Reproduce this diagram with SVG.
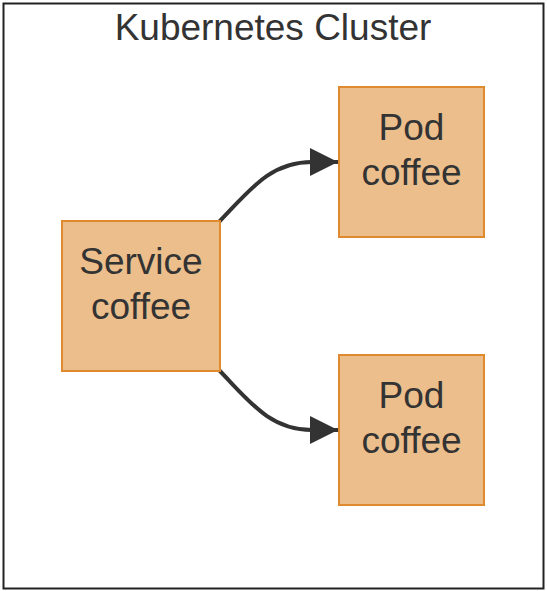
<svg xmlns="http://www.w3.org/2000/svg" width="547" height="591" viewBox="0 0 547 591">
<style>
.node rect{fill:#ECBE8C;stroke:#E08A30;stroke-width:2}
.lbl{font-family:"Liberation Sans",Arial,sans-serif;font-size:37px;fill:#333;text-anchor:middle}
.edge{fill:none;stroke:#333;stroke-width:4}
</style>
<defs>
<marker id="arr" markerUnits="userSpaceOnUse" markerWidth="28" markerHeight="28" refX="28" refY="14" orient="auto">
<path d="M0,0 L28,14 L0,28 Z" fill="#333"/>
</marker>
</defs>
<g id="cluster">
<rect x="3.5" y="3.5" width="540" height="585" fill="#fff" stroke="#222" stroke-width="2"/>
<text class="lbl" x="273" y="40">Kubernetes Cluster</text>
</g>
<g id="edges">
<path class="edge" d="M219,222 C250,190 270,162 312,162 L338,162" marker-end="url(#arr)"/>
<path class="edge" d="M219,370 C250,402 270,430 312,430 L338,430" marker-end="url(#arr)"/>
</g>
<g id="service" class="node">
<rect x="62" y="221" width="158" height="150"/>
<text class="lbl" x="141" y="274">Service</text>
<text class="lbl" x="141" y="319">coffee</text>
</g>
<g id="pod1" class="node">
<rect x="339" y="87" width="145" height="150"/>
<text class="lbl" x="411.5" y="140">Pod</text>
<text class="lbl" x="411.5" y="185">coffee</text>
</g>
<g id="pod2" class="node">
<rect x="339" y="355" width="145" height="150"/>
<text class="lbl" x="411.5" y="408">Pod</text>
<text class="lbl" x="411.5" y="453">coffee</text>
</g>
</svg>
